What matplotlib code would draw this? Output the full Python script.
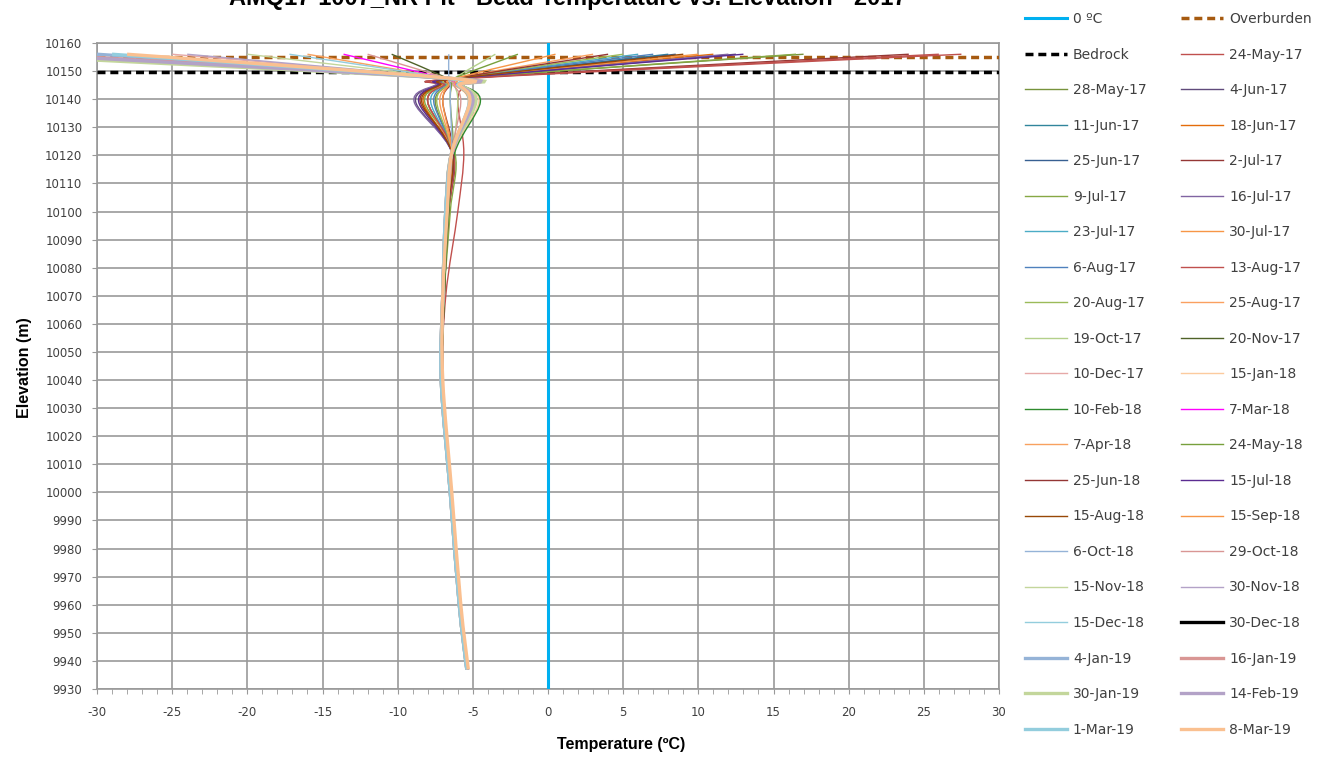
import numpy as np
import matplotlib
matplotlib.use("Agg")
import matplotlib.pyplot as plt
from matplotlib.path import Path
from matplotlib.patches import PathPatch
from matplotlib.lines import Line2D

plt.rcParams['axes.unicode_minus'] = False

# bead elevations (m) shared by every reading
elev = [10156, 10147.5, 10145, 10139, 10121, 10100, 10070, 10040, 10000, 9960, 9937]

dates = ['24-May-17', '28-May-17', '4-Jun-17', '11-Jun-17', '18-Jun-17', '25-Jun-17',
         '2-Jul-17', '9-Jul-17', '16-Jul-17', '23-Jul-17', '30-Jul-17', '6-Aug-17',
         '13-Aug-17', '20-Aug-17', '25-Aug-17', '19-Oct-17', '20-Nov-17', '10-Dec-17',
         '15-Jan-18', '10-Feb-18', '7-Mar-18', '7-Apr-18', '24-May-18', '25-Jun-18',
         '15-Jul-18', '15-Aug-18', '15-Sep-18', '6-Oct-18', '29-Oct-18', '15-Nov-18',
         '30-Nov-18', '15-Dec-18', '30-Dec-18', '4-Jan-19', '16-Jan-19', '30-Jan-19',
         '14-Feb-19', '1-Mar-19', '8-Mar-19']

# temperature (degC) at each bead, one list per reading date
temps = [
    [27.5, -5.0, -5.6, -6.0, -5.6, -6.0, -6.8, -7.0, -6.4, -5.8, -5.3],
    [17.0, -5.6, -6.6, -7.5, -6.4, -6.6, -6.9, -7.0, -6.4, -5.8, -5.3],
    [12.5, -5.8, -7.4, -8.8, -6.4, -6.7, -6.9, -7.0, -6.4, -5.8, -5.3],
    [8.0, -5.9, -7.0, -8.0, -6.4, -6.7, -7.0, -7.0, -6.4, -5.8, -5.3],
    [11.0, -5.8, -7.1, -8.3, -6.4, -6.7, -6.9, -7.0, -6.4, -5.8, -5.3],
    [8.5, -5.9, -7.0, -8.0, -6.3, -6.6, -6.9, -7.0, -6.4, -5.8, -5.3],
    [24.0, -5.5, -7.2, -8.5, -6.3, -6.6, -6.9, -7.0, -6.4, -5.8, -5.3],
    [16.5, -5.6, -7.0, -8.2, -6.2, -6.5, -6.9, -7.0, -6.4, -5.8, -5.3],
    [12.0, -5.8, -7.5, -8.9, -6.4, -6.7, -7.0, -7.0, -6.4, -5.8, -5.3],
    [6.0, -6.0, -6.9, -7.8, -6.4, -6.7, -7.0, -7.0, -6.4, -5.8, -5.3],
    [10.0, -5.9, -7.0, -8.0, -6.4, -6.7, -7.0, -7.0, -6.4, -5.8, -5.3],
    [7.0, -6.0, -6.8, -7.6, -6.4, -6.7, -7.0, -7.0, -6.4, -5.8, -5.3],
    [26.0, -5.4, -6.9, -8.0, -6.3, -6.6, -6.9, -7.0, -6.4, -5.8, -5.3],
    [5.0, -6.0, -6.7, -7.4, -6.4, -6.7, -7.0, -7.0, -6.4, -5.8, -5.3],
    [3.0, -6.1, -6.6, -7.2, -6.4, -6.7, -7.0, -7.0, -6.4, -5.8, -5.3],
    [-3.5, -6.2, -6.2, -6.0, -6.3, -6.7, -7.0, -7.0, -6.4, -5.8, -5.3],
    [-10.4, -6.7, -6.0, -5.0, -6.3, -6.7, -7.0, -7.0, -6.4, -5.8, -5.3],
    [-25.0, -6.8, -5.9, -4.8, -6.3, -6.7, -7.0, -7.0, -6.4, -5.8, -5.3],
    [-33.0, -6.8, -5.8, -4.6, -6.3, -6.7, -7.0, -7.0, -6.4, -5.8, -5.3],
    [-36.0, -6.8, -5.7, -4.5, -6.2, -6.6, -6.9, -7.0, -6.4, -5.8, -5.3],
    [-13.6, -7.0, -6.1, -5.0, -6.3, -6.7, -7.0, -7.0, -6.4, -5.8, -5.3],
    [-16.0, -6.9, -6.2, -5.3, -6.3, -6.7, -7.0, -7.0, -6.4, -5.8, -5.3],
    [-2.0, -6.2, -6.4, -6.5, -6.3, -6.7, -7.0, -7.0, -6.4, -5.8, -5.3],
    [4.0, -6.0, -6.5, -7.0, -6.3, -6.7, -7.0, -7.0, -6.4, -5.8, -5.3],
    [13.0, -5.8, -7.3, -8.6, -6.4, -6.7, -7.0, -7.0, -6.4, -5.8, -5.3],
    [9.0, -5.9, -7.2, -8.4, -6.4, -6.7, -7.0, -7.0, -6.4, -5.8, -5.3],
    [0.5, -6.1, -6.6, -7.0, -6.4, -6.7, -7.0, -7.0, -6.4, -5.8, -5.3],
    [-6.6, -6.6, -6.5, -6.5, -6.4, -6.7, -7.0, -7.0, -6.4, -5.8, -5.3],
    [-12.0, -6.8, -6.3, -5.8, -6.4, -6.7, -7.0, -7.0, -6.4, -5.8, -5.3],
    [-20.0, -6.8, -6.0, -5.2, -6.4, -6.7, -7.0, -7.0, -6.4, -5.8, -5.3],
    [-24.0, -6.8, -5.9, -5.0, -6.4, -6.7, -7.0, -7.0, -6.4, -5.8, -5.3],
    [-17.2, -6.8, -6.0, -5.3, -6.4, -6.7, -7.0, -7.0, -6.4, -5.8, -5.3],
    [],
    [-30.0, -6.8, -5.9, -5.0, -6.4, -6.8, -7.0, -7.1, -6.5, -5.9, -5.4],
    [-34.0, -6.8, -5.9, -5.0, -6.4, -6.8, -7.0, -7.1, -6.5, -5.9, -5.4],
    [-38.0, -6.8, -5.8, -4.8, -6.4, -6.8, -7.0, -7.1, -6.5, -5.9, -5.4],
    [-35.0, -6.8, -5.9, -5.0, -6.4, -6.8, -7.0, -7.1, -6.5, -5.9, -5.4],
    [-29.0, -6.8, -6.0, -5.2, -6.4, -6.8, -7.0, -7.1, -6.5, -5.9, -5.4],
    [-28.0, -6.6, -5.9, -5.2, -6.4, -6.7, -7.0, -7.0, -6.4, -5.8, -5.3],
]

colors = ['#C0504D', '#77933C', '#604A7B', '#31859C', '#E46C0A', '#376092',
          '#953735', '#86A844', '#8064A2', '#4BACC6', '#F79646', '#4F81BD',
          '#C0504D', '#9BBB59', '#FAA060', '#B3D08A', '#4F6228', '#E6A9A8',
          '#FCCB9E', '#2E8B2E', '#FF00FF', '#F8A15F', '#77A03C', '#943634',
          '#5B2C91', '#984807', '#F79646', '#95B3D7', '#D99694', '#C3D69B',
          '#B3A2C7', '#93CDDD', '#000000', '#95B3D7', '#D99694', '#C3D69B',
          '#B3A2C7', '#93CDDD', '#FAC090']
thick = dates[-7:]

zero_t = [0, 0]
zero_elev = [9930, 10160]
overburden_t = [-30, 30]
overburden_elev = [10155, 10155]
bedrock_t = [-30, 30]
bedrock_elev = [10149.5, 10149.5]


def smooth_path(xs, ys):
    """Excel-style smoothed line through the points as cubic Bezier pieces."""
    p = np.column_stack([xs, ys]).astype(float)
    tang = np.zeros_like(p)
    tang[1:-1] = (p[2:] - p[:-2]) / 2
    tang[0] = (p[1] - p[0]) / 2
    tang[-1] = (p[-1] - p[-2]) / 2
    verts = [p[0]]
    codes = [Path.MOVETO]
    for i in range(len(p) - 1):
        verts += [p[i] + tang[i] / 3, p[i + 1] - tang[i + 1] / 3, p[i + 1]]
        codes += [Path.CURVE4] * 3
    return Path(verts, codes)


fig = plt.figure(figsize=(13.23, 7.6), dpi=100)
ax = fig.add_axes([97 / 1323, 1 - 689 / 760, 902 / 1323, 646 / 760])

h_zero, = ax.plot(zero_t, zero_elev, color='#00B0F0', lw=2.2, label='0 ºC', zorder=3)
h_over, = ax.plot(overburden_t, overburden_elev, color='#A65A10', lw=2.5,
                  dashes=(2.3, 1.4), label='Overburden', zorder=3)
h_bed, = ax.plot(bedrock_t, bedrock_elev, color='black', lw=2.5,
                 dashes=(2.3, 1.4), label='Bedrock', zorder=3)

handles = [h_zero, h_over, h_bed]
for d, t, c in zip(dates, temps, colors):
    lw = 2.4 if d in thick else 1.0
    if len(t) > 1:
        ax.add_patch(PathPatch(smooth_path(t, elev), facecolor='none', edgecolor=c,
                               lw=lw, zorder=4))
    handles.append(Line2D([], [], color=c, lw=lw, label=d))

ax.set_xlim(-30, 30)
ax.set_ylim(9930, 10160)
ax.set_xticks(range(-30, 31, 5))
ax.set_xticks(range(-30, 31, 1), minor=True)
ax.set_yticks(range(9930, 10161, 10))
ax.grid(True, which='major', color='#999999', lw=1.2)
ax.set_axisbelow(True)
for s in ax.spines.values():
    s.set_color('#999999')
    s.set_linewidth(1.2)
ax.tick_params(which='both', direction='out', length=3.5, color='#999999',
               labelcolor='#404040', labelsize=8.5)
ax.tick_params(axis='x', pad=9)
ax.tick_params(axis='y', pad=7)

# the title sits partly above the top edge, as in the original image
fig.text(568 / 1323, 1 - 5 / 760, 'AMQ17-1007_NR Pit - Bead Temperature vs. Elevation - 2017',
         ha='center', va='baseline', fontsize=17, fontweight='bold',
         family='Liberation Sans')
fig.text(621 / 1323, 1 - 745 / 760, 'Temperature (ºC)', ha='center', va='center',
         fontsize=11.5, fontweight='bold', family='Liberation Sans')
fig.text(25 / 1323, 1 - 368 / 760, 'Elevation (m)', ha='center', va='center',
         rotation=90, fontsize=11.5, fontweight='bold', family='Liberation Sans')

# legend is filled row by row in the original
order = handles[0::2] + handles[1::2]
leg = ax.legend(handles=order, ncol=2, loc='upper left',
                bbox_to_anchor=(1025 / 1323, 1 - 12 / 760), bbox_transform=fig.transFigure,
                frameon=False, fontsize=10, handlelength=3.0, handletextpad=0.45,
                labelspacing=1.55, columnspacing=2.5, borderpad=0, borderaxespad=0)
for txt in leg.get_texts():
    txt.set_color('#404040')

fig.savefig('out.png', dpi=100)
